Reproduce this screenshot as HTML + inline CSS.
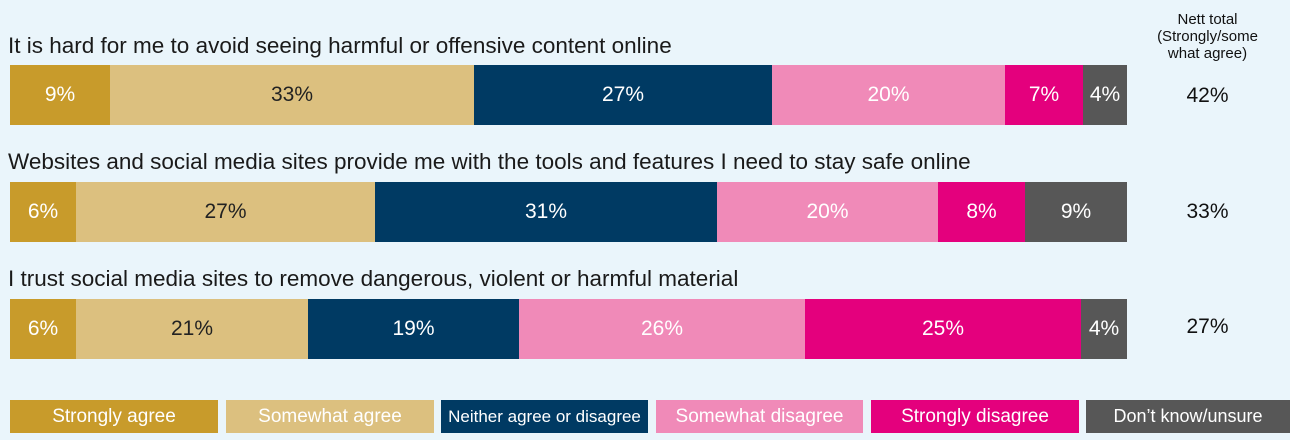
<!DOCTYPE html>
<html><head><style>
body{margin:0;width:1290px;height:440px;background:#eaf5fb;font-family:"Liberation Sans",sans-serif;position:relative;overflow:hidden}
.t{position:absolute;left:8px;font-size:22.5px;color:#1a1a1a;white-space:nowrap}
.s{position:absolute;height:60px;display:flex;align-items:center;justify-content:center;font-size:21px;color:#fff}
.l{position:absolute;top:400px;height:33px;display:flex;align-items:center;justify-content:center;font-size:19px;color:#fff}
.n{position:absolute;left:1150px;width:115px;text-align:center;font-size:21px;color:#111}
</style></head><body>
<div style="position:absolute;left:1145px;width:125px;top:11px;text-align:center;font-size:15px;line-height:17px;color:#111">Nett total<br>(Strongly/some<br>what agree)</div>
<div class="t" style="top:33px">It is hard for me to avoid seeing harmful or offensive content online</div>
<div class="t" style="top:149px">Websites and social media sites provide me with the tools and features I need to stay safe online</div>
<div class="t" style="top:266px">I trust social media sites to remove dangerous, violent or harmful material</div>

<div class="s" style="top:65px;left:10px;width:100px;background:#c89b2b">9%</div>
<div class="s" style="top:65px;left:110px;width:364px;background:#dcc07f;color:#222">33%</div>
<div class="s" style="top:65px;left:474px;width:298px;background:#003a63">27%</div>
<div class="s" style="top:65px;left:772px;width:233px;background:#f08ab8">20%</div>
<div class="s" style="top:65px;left:1005px;width:78px;background:#e4007d">7%</div>
<div class="s" style="top:65px;left:1083px;width:44px;background:#575757">4%</div>
<div class="n" style="top:84px">42%</div>

<div class="s" style="top:182px;left:10px;width:66px;background:#c89b2b">6%</div>
<div class="s" style="top:182px;left:76px;width:299px;background:#dcc07f;color:#222">27%</div>
<div class="s" style="top:182px;left:375px;width:342px;background:#003a63">31%</div>
<div class="s" style="top:182px;left:717px;width:221px;background:#f08ab8">20%</div>
<div class="s" style="top:182px;left:938px;width:87px;background:#e4007d">8%</div>
<div class="s" style="top:182px;left:1025px;width:102px;background:#575757">9%</div>
<div class="n" style="top:200px">33%</div>

<div class="s" style="top:299px;left:10px;width:66px;background:#c89b2b">6%</div>
<div class="s" style="top:299px;left:76px;width:232px;background:#dcc07f;color:#222">21%</div>
<div class="s" style="top:299px;left:308px;width:211px;background:#003a63">19%</div>
<div class="s" style="top:299px;left:519px;width:286px;background:#f08ab8">26%</div>
<div class="s" style="top:299px;left:805px;width:276px;background:#e4007d">25%</div>
<div class="s" style="top:299px;left:1081px;width:46px;background:#575757">4%</div>
<div class="n" style="top:315px">27%</div>

<div class="l" style="left:10px;width:208px;background:#c89b2b">Strongly agree</div>
<div class="l" style="left:226px;width:208px;background:#dcc07f">Somewhat agree</div>
<div class="l" style="left:441px;width:207px;background:#003a63;font-size:17px">Neither agree or disagree</div>
<div class="l" style="left:656px;width:207px;background:#f08ab8">Somewhat disagree</div>
<div class="l" style="left:871px;width:208px;background:#e4007d">Strongly disagree</div>
<div class="l" style="left:1086px;width:204px;background:#575757;font-size:18px">Don’t know/unsure</div>
</body></html>
